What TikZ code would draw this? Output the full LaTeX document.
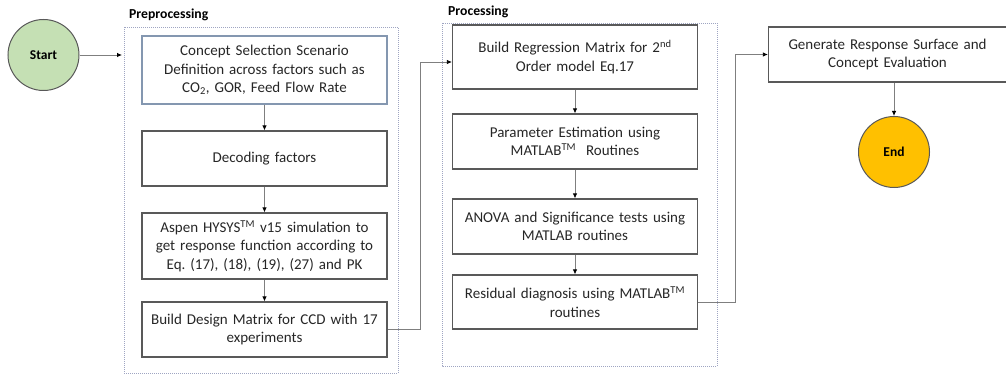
\documentclass[tikz,border=0pt]{standalone}
\usepackage{fontspec}
\setmainfont{Carlito}
\frenchspacing
\usetikzlibrary{arrows.meta,positioning}
\definecolor{startgreen}{HTML}{C5E0B4}
\definecolor{endgold}{HTML}{FFC000}
\definecolor{boxline}{HTML}{595959}
\definecolor{blueline}{HTML}{8497B0}
\definecolor{groupline}{HTML}{9FA5C2}
\definecolor{flowline}{HTML}{7F7F7F}

\begin{document}
\begin{tikzpicture}[x=1pt,y=-1pt,
box/.style={draw=boxline,line width=1.2pt,align=center,text width=238pt,minimum width=245pt,inner sep=0pt,font=\fontsize{15}{18.5}\selectfont,text=black!85},
term/.style={circle,draw=boxline,line width=1pt,minimum size=71pt,inner sep=0pt,font=\bfseries\fontsize{13.5}{15}\selectfont},
group/.style={draw=groupline,line width=0.7pt,dash pattern=on 1pt off 1pt},
grouplabel/.style={anchor=west,inner sep=0pt,font=\bfseries\fontsize{13.7}{15}\selectfont},
flow/.style={-{Latex[length=5pt,width=4.5pt,color=black]},draw=flowline,line width=0.8pt}]
\useasboundingbox (0,0) rectangle (1006,374);
% stages
\draw[group] (124,27) rectangle (398,373);
\draw[group] (442,23) rectangle (717,366);
\node[grouplabel] (prelabel) at (129,15) {Preprocessing};
\node[grouplabel] (proclabel) at (448,12) {Processing};
% start / end
\node[term,fill=startgreen] (start) at (43.5,55) {Start};
\node[term,fill=endgold] (end) at (894,152) {End};
\coordinate (prein) at (122,55);
% preprocessing
\node[box,draw=blueline,minimum height=68pt] (scenario) at (264.5,70) {Concept Selection Scenario\\Definition across factors such as\\CO\textsubscript{2}, GOR, Feed Flow Rate};
\node[box,minimum height=55pt] (decode) at (264.5,158.5) {Decoding factors};
\node[box,minimum height=66pt] (hysys) at (264.5,246) {Aspen HYSYS\textsuperscript{TM} v15 simulation to\\get response function according to\\Eq. (17), (18), (19), (27) and PK};
\node[box,minimum height=55pt] (design) at (264.5,329.5) {Build Design Matrix for CCD with 17\\experiments};
% processing
\node[box,minimum height=64pt] (regress) at (575,57) {Build Regression Matrix for 2\textsuperscript{nd}\\Order model Eq.17};
\node[box,minimum height=55pt] (estimate) at (575,141.5) {Parameter Estimation using\\MATLAB\textsuperscript{TM}\ \ Routines};
\node[box,minimum height=55pt] (anova) at (575,226.5) {ANOVA and Significance tests using\\MATLAB routines};
\node[box,minimum height=54pt] (residual) at (575,302) {Residual diagnosis using MATLAB\textsuperscript{TM}\\routines};
\node[box,minimum width=233pt,minimum height=55pt] (surface) at (887.5,54.5) {Generate Response Surface and\\Concept Evaluation};
% connectors
\draw[flow] (start) -- (prein);
\draw[flow] (scenario) -- (decode);
\draw[flow] (decode) -- (hysys);
\draw[flow] (hysys) -- (design);
\draw[flow] (design.east) -- ++(33,0) |- ([yshift=-5pt]regress.west);
\draw[flow] (regress) -- (estimate);
\draw[flow] (estimate) -- (anova);
\draw[flow] (anova) -- (residual);
\draw[flow] (residual.east) -- ++(37,0) |- (surface.west);
\draw[flow] (end.north |- surface.south) -- (end.north);
\end{tikzpicture}
\end{document}
